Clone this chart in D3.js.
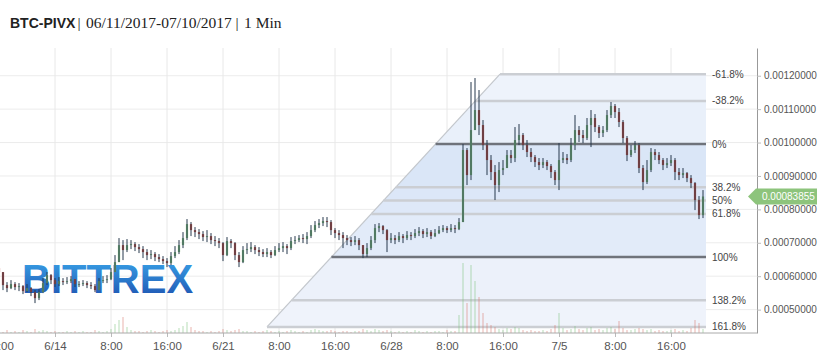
<!DOCTYPE html>
<html>
<head>
<meta charset="utf-8">
<script src="https://cdnjs.cloudflare.com/ajax/libs/d3/7.8.5/d3.min.js"></script>
<style>
  body { margin: 0; background: #fff; }
  svg { display: block; font-family: "Liberation Sans", Arial, sans-serif; }
</style>
</head>
<body>
<svg id="chart" width="821" height="352"></svg>
<script>
// prices in satoshi (1e-8 BTC), one candle per slot
const firstOpen = 62430;
const closes = [
  61230,57340,56440,57640,56740,57040,55540,56440,55240,53440,
  55240,57940,60330,58830,57640,58530,58230,58530,59130,57640,
  57640,57940,57340,57040,55840,58530,58830,59130,61230,64220,
  69310,67820,69310,69610,68710,68110,67220,66320,66620,65720,
  65120,64520,63920,66020,67220,69310,71410,75600,73800,73200,
  72610,71710,72010,70810,70510,69910,66320,70510,69910,66320,
  64220,67820,68110,68710,67820,67220,66620,67220,66320,67820,
  68410,69010,68410,70510,70810,71410,71110,72010,73800,75300,
  75900,76500,76200,73800,72910,72310,71410,70810,70210,70810,
  69310,66620,68410,70810,74400,75000,73800,70810,71410,70810,
  72010,71410,72310,72010,72910,73500,72610,73200,72010,72910,
  73800,74400,73800,74400,74100,76200,97760,90270,103740,109730,
  105240,99250,94760,91170,87280,91770,92370,96260,95360,100750,
  102250,99250,97160,95660,94160,93260,94160,92970,91170,88770,
  94760,95360,94760,99250,103740,102250,101350,105240,107340,104640,
  102850,103740,108230,110930,109130,106140,101350,96260,97760,99250,
  92370,88170,91770,97160,96260,94760,93260,93860,94760,91170,
  90270,90870,89370,87880,82790,78290,83855
];
const highs = [
  63030,59430,58230,58830,58230,57940,57340,57640,56740,55840,
  56140,59430,61230,60630,59430,59730,59430,59730,60030,59130,
  58530,58830,58530,58230,57640,59430,60030,60330,62430,66320,
  71410,70810,71110,70810,70210,69610,69010,68110,67820,67220,
  66620,66020,65420,67220,69010,70810,73200,77100,76200,74700,
  74100,73500,73800,72910,72010,71410,70210,71710,71110,70210,
  67220,69010,69910,70210,69310,68710,68110,68410,67820,69010,
  69910,70210,69610,71710,72010,72310,72610,73200,75300,76500,
  77100,77700,77700,76800,74400,73800,73200,72310,71710,72010,
  71410,69010,69910,72010,75600,75900,75300,74100,72910,72310,
  73200,72610,73500,73200,74100,74700,74100,74400,73800,74100,
  75000,75300,75000,75600,75300,77400,99550,98350,118110,119310,
  115720,106740,100750,96260,93260,94160,94760,97760,97760,104640,
  105540,102850,100750,98350,96260,95360,95360,94760,93560,91770,
  99850,97160,96560,101350,108230,104940,103740,107340,109730,108530,
  105240,104940,109730,112130,111530,110330,106740,101950,99250,100450,
  99850,93260,94760,98350,98050,97160,95360,95360,96260,95360,
  92370,92370,91170,90270,88170,83980,85780
];
const lows = [
  58830,55840,55240,56140,55840,55540,54640,55240,54040,51950,
  52850,54940,57340,57640,56740,57040,57340,57640,57940,56740,
  56740,57040,56440,56140,55240,55840,57940,57940,58830,61230,
  64220,64820,67220,68110,67520,66920,65420,64820,65120,64520,
  64220,63620,62730,63320,65420,66620,68410,70810,72010,71710,
  71110,70510,70210,69610,69010,68410,64520,66020,68410,64820,
  62730,63920,66620,67220,66620,66020,65720,65720,65420,66020,
  67220,67220,66620,67820,69610,70210,69910,69610,71410,73200,
  74400,75000,74700,72310,71410,70810,68410,69310,69010,69310,
  67820,65420,65720,67820,69910,73200,72610,67220,69910,69610,
  70210,69910,70810,70810,71410,72010,71410,71710,71110,71710,
  72610,73200,72910,73200,72910,73800,76200,87280,88770,103740,
  102250,97760,90270,88770,82790,85180,90270,93260,93860,94160,
  99250,97760,95660,94160,92670,91770,92370,91770,89370,87280,
  85780,93860,93560,94160,97760,100150,99850,100750,98650,103140,
  101350,101650,103140,107340,107340,104640,99850,94460,95660,96860,
  90870,85780,87580,91170,94760,93560,91770,92370,92970,88770,
  88770,89370,88170,86380,79790,77100,77400
];
const volumes = [
  2,1,3,1,2,1,3,2,1,4,
  2,3,2,1,2,1,1,2,1,2,
  1,2,1,1,3,2,1,2,4,9,
  13,16,6,3,2,2,1,2,3,2,
  1,2,3,2,3,5,7,11,6,3,
  2,2,1,2,1,2,4,3,2,3,
  4,2,2,1,2,1,2,3,2,1,
  2,1,2,3,2,1,2,1,3,4,
  3,2,2,3,2,1,2,2,1,2,
  2,4,3,2,4,3,2,3,2,1,
  2,1,2,1,3,2,1,2,1,2,
  2,1,3,2,2,18,70,30,68,52,
  36,20,10,8,6,4,3,5,4,6,
  5,3,2,3,2,2,3,2,4,8,
  20,5,3,4,7,4,3,5,6,3,
  4,3,5,6,4,12,5,3,3,4,
  5,4,3,4,2,3,2,2,3,4,
  2,3,2,5,13,10,4
];

const tickIndex = [0, 14, 28, 42, 56, 70, 84, 98, 112, 126, 140, 154, 168];
const tickLabels = ["16:00","6/14","8:00","16:00","6/21","8:00","16:00","6/28","8:00","16:00","7/5","8:00","16:00"];
const priceTicks = [50000, 60000, 70000, 80000, 90000, 100000, 110000, 120000];

// fibonacci retracement tool
const fibHigh = 99550, fibLow = 65720;
const fibLevels = [-0.618, -0.382, 0, 0.382, 0.5, 0.618, 1, 1.382, 1.618];
const fibLabels = ["-61.8%","-38.2%","0%","38.2%","50%","61.8%","100%","138.2%","161.8%"];
const fibStart = 67, fibApex = 125.25, fibEnd = 176.75;
const lastPrice = 83855;

const svg = d3.select("#chart");
const pLeft = 0, pRight = 757, pTop = 48, pBottom = 333;

const x = d3.scaleLinear().domain([0, 182]).range([-1, 727]);
const y = d3.scaleLinear().domain([43000, 128300]).range([pBottom, pTop]);
const yVol = d3.scaleLinear().domain([0, 100]).range([pBottom, pBottom - 100]);
const fmt = d => (d / 1e8).toFixed(8);

const candles = closes.map((c, i) => ({
  i, close: c, open: i ? closes[i - 1] : firstOpen, high: highs[i], low: lows[i], vol: volumes[i]
}));

// title
const title = svg.append("text").attr("y", 28).attr("fill", "#222");
title.append("tspan").attr("x", 10).attr("font-weight", "bold").attr("font-size", 14).text("BTC-PIVX");
[["|", 77.5], ["06/11/2017-07/10/2017", 86], ["|", 235.5], ["1 Min", 244]].forEach(([t, px]) => {
  title.append("tspan").attr("x", px)
    .attr("font-family", "'Liberation Serif', 'DejaVu Serif', serif")
    .attr("font-size", 15.5)
    .text(t);
});

svg.append("defs").html(`
  <clipPath id="plotclip"><rect x="${pLeft}" y="${pTop}" width="${pRight - pLeft}" height="${pBottom - pTop}"/></clipPath>
  <linearGradient id="wm" x1="0" y1="0" x2="0" y2="1">
    <stop offset="0" stop-color="#3aa6ea"/>
    <stop offset="1" stop-color="#1d4fae"/>
  </linearGradient>`);

// grid
const grid = svg.append("g");
grid.selectAll(".hg").data(priceTicks).join("line")
  .attr("x1", pLeft).attr("x2", pRight)
  .attr("y1", d => y(d)).attr("y2", d => y(d))
  .attr("stroke", "#ececec");
grid.selectAll(".vg").data(tickIndex).join("line")
  .attr("x1", d => x(d)).attr("x2", d => x(d))
  .attr("y1", pTop).attr("y2", pBottom)
  .attr("stroke", "#e8e8e8");

// watermark
svg.append("text")
  .attr("x", 22).attr("y", 293)
  .attr("font-size", 40).attr("font-weight", "bold")
  .attr("fill", "url(#wm)")
  .text("BITTREX");

const plot = svg.append("g").attr("clip-path", "url(#plotclip)");

// fibonacci bands
const fibPrice = l => fibHigh - l * (fibHigh - fibLow);
const yA = y(fibPrice(fibLevels[fibLevels.length - 1])), yB = y(fibPrice(fibLevels[0]));
const xA = x(fibStart), xB = x(fibApex), xR = x(fibEnd);
const xLeft = yy => xA + (xB - xA) * (yA - yy) / (yA - yB);
const bandFill = ["#eef3fb","#e9f0fa","#dae6f7","#dce7f8","#dee8f8","#e2ebf9","#ecf1fa","#eff3fb"];

const fib = plot.append("g");
d3.pairs(fibLevels).forEach(([a, b], k) => {
  const ya = y(fibPrice(a)), yb = y(fibPrice(b));
  fib.append("polygon")
    .attr("points", [[xLeft(ya), ya], [xR, ya], [xR, yb], [xLeft(yb), yb]].join(" "))
    .attr("fill", bandFill[k]);
});
fib.append("line")
  .attr("x1", xA).attr("y1", yA).attr("x2", xB).attr("y2", yB)
  .attr("stroke", "#c3c7cc").attr("stroke-width", 1.2);
fib.selectAll(".fl").data(fibLevels).join("line")
  .attr("x1", d => xLeft(y(fibPrice(d)))).attr("x2", xR)
  .attr("y1", d => y(fibPrice(d))).attr("y2", d => y(fibPrice(d)))
  .attr("stroke", d => (d === 0 || d === 1) ? "#6f737b" : "#cbced3")
  .attr("stroke-width", 2.5);

svg.append("g").selectAll("text").data(fibLevels).join("text")
  .attr("x", xR + 6).attr("y", d => y(fibPrice(d)) + 3.5)
  .attr("font-size", 10).attr("fill", "#444")
  .text((d, i) => fibLabels[i]);

// volume
plot.append("g").selectAll("rect").data(candles).join("rect")
  .attr("x", d => x(d.i) - 1).attr("width", 2)
  .attr("y", d => yVol(d.vol)).attr("height", d => pBottom - yVol(d.vol))
  .attr("fill", d => d.close >= d.open ? "#7cc27c" : "#d9776a")
  .attr("fill-opacity", 0.28);

// candles
const cg = plot.append("g");
cg.selectAll("rect").data(candles).join("rect")
  .attr("x", d => x(d.i) - 1.1).attr("width", 2.2)
  .attr("y", d => y(Math.max(d.open, d.close)))
  .attr("height", d => Math.max(1, Math.abs(y(d.open) - y(d.close))))
  .attr("fill", d => d.close >= d.open ? "#7dbb7a" : "#b9473a");
cg.selectAll("line").data(candles).join("line")
  .attr("x1", d => x(d.i)).attr("x2", d => x(d.i))
  .attr("y1", d => y(Math.max(d.high, d.open, d.close)))
  .attr("y2", d => y(Math.min(d.low, d.open, d.close)))
  .attr("stroke", "#27384c").attr("stroke-width", 1);

// axes
const yAxis = svg.append("g")
  .attr("transform", `translate(${pRight},0)`)
  .call(d3.axisRight(y).tickValues(priceTicks).tickFormat(fmt).tickSize(4).tickSizeOuter(0).tickPadding(3));
yAxis.select(".domain").attr("stroke", "#999");
yAxis.selectAll(".tick line").attr("stroke", "#bbb");
yAxis.selectAll("text").attr("fill", "#555").attr("font-size", 10)
  .attr("font-family", "'Liberation Sans', Arial, sans-serif");

const xAxis = svg.append("g")
  .attr("transform", `translate(0,${pBottom})`)
  .call(d3.axisBottom(x).tickValues(tickIndex).tickFormat((d, i) => tickLabels[i]).tickSize(4).tickSizeOuter(0).tickPadding(5));
xAxis.select(".domain").remove();
xAxis.selectAll(".tick line").attr("stroke", "#bbb");
xAxis.selectAll("text").attr("fill", "#555").attr("font-size", 11.5)
  .attr("font-family", "'Liberation Sans', Arial, sans-serif");
svg.append("line").attr("x1", pLeft).attr("x2", pRight).attr("y1", pBottom).attr("y2", pBottom)
  .attr("stroke", "#aaa");

// last price tag
const yp = y(lastPrice);
svg.append("polygon")
  .attr("points", [[748, yp], [756, yp - 8], [817, yp - 8], [817, yp + 8], [756, yp + 8]].join(" "))
  .attr("fill", "#8dc47c");
svg.append("text")
  .attr("x", 762).attr("y", yp + 3.5)
  .attr("font-size", 10).attr("fill", "#fff")
  .text(fmt(lastPrice));
</script>
</body>
</html>
